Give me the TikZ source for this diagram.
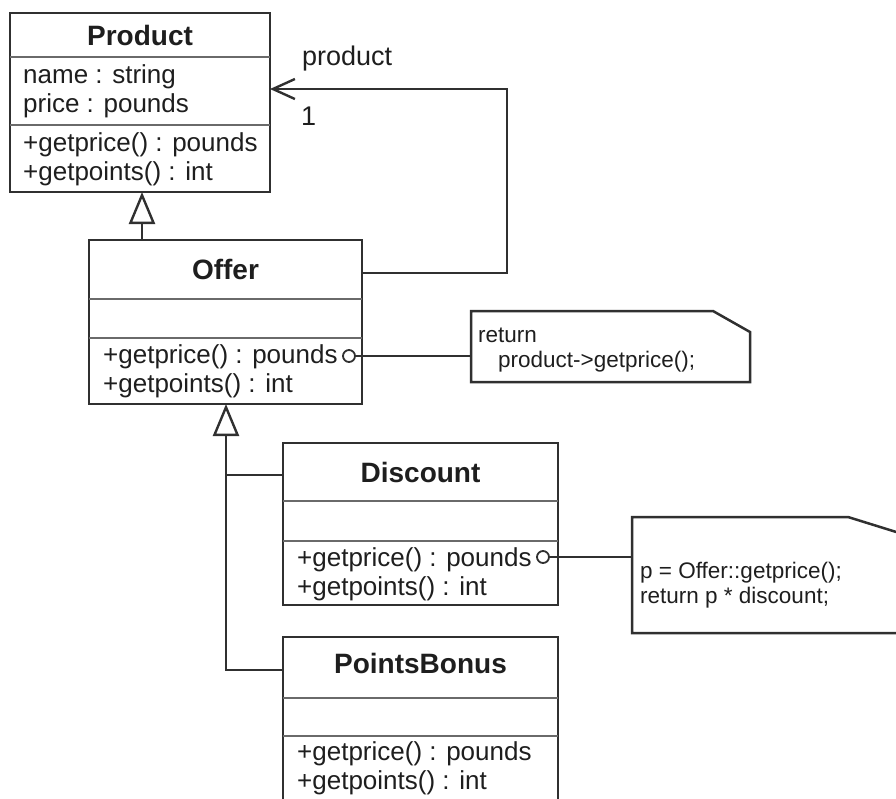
\documentclass[tikz,border=0pt]{standalone}
\usepackage{fontspec}
\setmainfont{Liberation Sans}
\usetikzlibrary{arrows.meta,calc}
\definecolor{ink}{HTML}{1E1E1E}
\definecolor{edge}{HTML}{303030}
\definecolor{rule}{HTML}{6A6A6A}
\tikzset{
  classbox/.style={draw=edge, line width=2.6pt, rectangle, anchor=north west, inner sep=0pt, outer sep=0pt},
  divider/.style={draw=rule, line width=2.2pt},
  classname/.style={anchor=base, text=ink, inner sep=0pt, font=\fontsize{28pt}{30pt}\selectfont\bfseries},
  member/.style={anchor=base west, text=ink, inner sep=0pt, font=\fontsize{26pt}{29pt}\selectfont},
  notetext/.style={anchor=base west, text=ink, inner sep=0pt, font=\fontsize{22.5pt}{25pt}\selectfont},
  rolelabel/.style={anchor=base west, text=ink, inner sep=0pt, font=\fontsize{27pt}{30pt}\selectfont},
  notebox/.style={rectangle, anchor=north west, inner sep=0pt, outer sep=0pt},
  noteedge/.style={draw=edge, line width=2.5pt, line join=miter},
  link/.style={draw=edge, line width=2.2pt},
  port/.style={circle, draw=edge, line width=1.8pt, fill=white, minimum size=12pt, inner sep=0pt},
  inherit/.style={link, -{Triangle[open, length=32pt, width=26pt, line width=2.4pt]}},
  navigable/.style={link, -{Straight Barb[length=22pt, width=20pt, line width=2.4pt]}},
}
\begin{document}
\begin{tikzpicture}[x=1pt,y=-1pt]
\useasboundingbox (0,0) rectangle (896,798);
\begin{scope}
\clip (0,0) rectangle (896,798);

% ---- Product ----
\node[classbox, minimum width=260pt, minimum height=179pt] (product) at (10,13) {};
\draw[divider] (10,57) -- (270,57);
\draw[divider] (10,125) -- (270,125);
\node[classname] (productname) at (140,45) {Product};
\node[member] (productattr1) at (23,83) {name : string};
\node[member] (productattr2) at (23,112) {price : pounds};
\node[member] (productop1) at (23,151) {+getprice() : pounds};
\node[member] (productop2) at (23,180) {+getpoints() : int};

% ---- Offer ----
\node[classbox, minimum width=273pt, minimum height=164pt] (offer) at (89,240) {};
\draw[divider] (89,299) -- (362,299);
\draw[divider] (89,338) -- (362,338);
\node[classname] (offername) at (225.5,279) {Offer};
\node[member] (offerop1) at (103,363) {+getprice() : pounds};
\node[member] (offerop2) at (103,392) {+getpoints() : int};
\node[port] (offerport) at (349,356) {};

% ---- Discount ----
\node[classbox, minimum width=275pt, minimum height=162pt] (discount) at (283,443) {};
\draw[divider] (283,501) -- (558,501);
\draw[divider] (283,541) -- (558,541);
\node[classname] (discountname) at (420.5,482) {Discount};
\node[member] (discountop1) at (297,566) {+getprice() : pounds};
\node[member] (discountop2) at (297,595) {+getpoints() : int};
\node[port] (discountport) at (543,557) {};

% ---- PointsBonus ----
\node[classbox, minimum width=275pt, minimum height=200pt] (pointsbonus) at (283,637) {};
\draw[divider] (283,698) -- (558,698);
\draw[divider] (283,736) -- (558,736);
\node[classname] (pointsbonusname) at (420.5,673) {PointsBonus};
\node[member] (pointsbonusop1) at (297,760) {+getprice() : pounds};
\node[member] (pointsbonusop2) at (297,789) {+getpoints() : int};

% ---- notes ----
\node[notebox, minimum width=279pt, minimum height=71pt] (note1) at (471,311) {};
\draw[noteedge] (note1.north west) -- ($(note1.north east)+(-37,0)$)
  -- ($(note1.north east)+(0,21)$) -- (note1.south east) -- (note1.south west) -- cycle;
\node[notetext] (note1line1) at (478,342) {return};
\node[notetext] (note1line2) at (498,367) {product->getprice();};

\node[notebox, minimum width=290pt, minimum height=116pt] (note2) at (632,517) {};
\draw[noteedge] (note2.north west) -- ($(note2.north east)+(-74,0)$)
  -- ($(note2.north east)+(0,23)$) -- (note2.south east) -- (note2.south west) -- cycle;
\node[notetext] (note2line1) at (640,578) {p = Offer::getprice();};
\node[notetext] (note2line2) at (640,603) {return p * discount;};

% ---- note attachments ----
\draw[link] (offerport) -- (offerport -| note1.west);
\draw[link] (discountport) -- (discountport -| note2.west);

% ---- association Offer -> Product ----
\draw[navigable] ($(offer.north east)+(0,33)$) -- ++(145,0) |- ($(product.north east)+(0,76)$);
\node[rolelabel] (rolename) at (302,65) {product};
\node[rolelabel] (multiplicity) at (301,125) {1};

% ---- generalisations ----
\coordinate (offertop) at ($(offer.north west)+(53,0)$);
\draw[inherit] (offertop) -- (offertop |- product.south);

\coordinate (offerbottom) at ($(offer.south west)+(137,0)$);
\coordinate (pbjoin) at ($(pointsbonus.north west)+(0,33)$);
\coordinate (discjoin) at ($(discount.north west)+(0,32)$);
\draw[inherit] (pbjoin) -| (offerbottom);
\draw[link] (discjoin) -- (discjoin -| offerbottom);
\end{scope}
\end{tikzpicture}
\end{document}
